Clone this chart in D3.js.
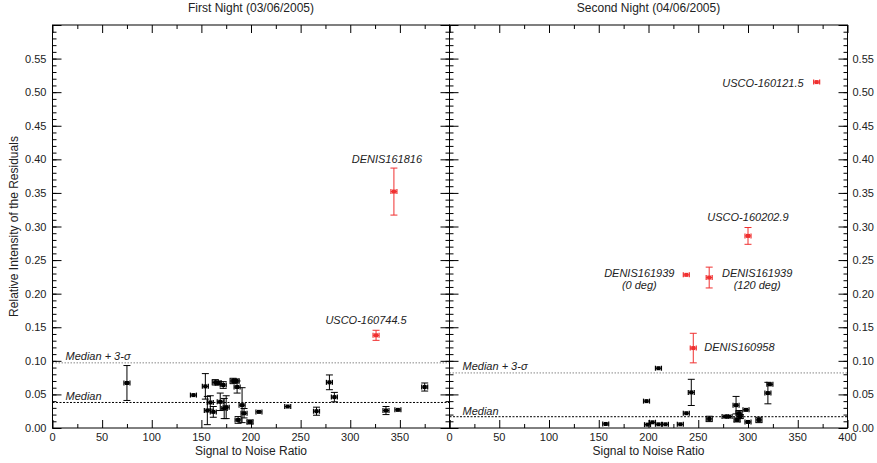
<!DOCTYPE html>
<html>
<head>
  <meta charset="UTF-8">
  <title>Relative Intensity of the Residuals vs SNR</title>
  <script src="https://d3js.org/d3.v7.min.js"></script>
  <style>
    body { margin: 0; background: #fff; }
    text { font-family: "Liberation Sans", Arial, Helvetica, sans-serif; fill: #222; }
  </style>
</head>
<body>
  <div id="chart"></div>

  <script>
    // ---- data ----
    // first night: black points (SNR, value, error)
    const night1Snr = [75, 142, 154, 156, 159, 162, 164, 167, 169, 172, 173, 175, 182, 185, 186, 187, 191, 193, 199, 208, 237, 266, 279, 284, 336, 348, 375];
    const night1Val = [0.067, 0.049, 0.062, 0.026, 0.038, 0.024, 0.068, 0.067, 0.039, 0.064, 0.029, 0.031, 0.070, 0.070, 0.061, 0.012, 0.034, 0.022, 0.009, 0.024, 0.032, 0.025, 0.068, 0.046, 0.026, 0.027, 0.061];
    const night1Err = [0.026, 0.002, 0.019, 0.021, 0.010, 0.008, 0.004, 0.003, 0.013, 0.005, 0.015, 0.017, 0.004, 0.003, 0.009, 0.005, 0.026, 0.007, 0.003, 0.002, 0.002, 0.006, 0.011, 0.007, 0.006, 0.002, 0.006];

    // second night: black points
    const night2Snr = [157, 198, 199, 204, 210, 210, 217, 232, 238, 243, 261, 277, 281, 288, 289, 291, 292, 298, 300, 311, 320, 322];
    const night2Val = [0.006, 0.040, 0.005, 0.0085, 0.089, 0.0055, 0.0055, 0.0055, 0.022, 0.053, 0.0135, 0.017, 0.017, 0.034, 0.012, 0.022, 0.017, 0.027, 0.009, 0.012, 0.052, 0.065];
    const night2Err = [0.002, 0.002, 0.002, 0.002, 0.002, 0.002, 0.002, 0.002, 0.002, 0.0195, 0.004, 0.002, 0.002, 0.013, 0.003, 0.004, 0.003, 0.002, 0.002, 0.004, 0.016, 0.002];

    // flagged (red) objects
    const night1Names = ["DENIS161816", "USCO-160744.5"];
    const night1RedSnr = [344, 326];
    const night1RedVal = [0.352, 0.138];
    const night1RedErr = [0.035, 0.0075];

    const night2Names = ["USCO-160121.5", "USCO-160202.9", "DENIS161939|(0 deg)", "DENIS161939|(120 deg)", "DENIS160958"];
    const night2RedSnr = [369, 300, 238, 261, 245];
    const night2RedVal = [0.515, 0.286, 0.228, 0.224, 0.119];
    const night2RedErr = [0.002, 0.0125, 0.002, 0.0155, 0.022];

    // median and median + 3 sigma levels
    const medians = [0.038, 0.0168];
    const sigmaLines = [0.097, 0.082];

    const titles = ["First Night (03/06/2005)", "Second Night (04/06/2005)"];
    const yTicks = [0, 0.05, 0.10, 0.15, 0.20, 0.25, 0.30, 0.35, 0.40, 0.45, 0.50, 0.55];

    // label placement (pixel offsets from the point)
    const night1LabelPos = [
      { anchor: "middle", dx: -7, dy: -29 },
      { anchor: "middle", dx: -10, dy: -11 }
    ];
    const night2LabelPos = [
      { anchor: "end", dx: -13, dy: 5 },
      { anchor: "middle", dx: 0, dy: -15 },
      { anchor: "middle", dx: -47, dy: 2 },
      { anchor: "middle", dx: 48, dy: -1 },
      { anchor: "start", dx: 11, dy: 3 }
    ];

    const width = 877, height = 463;
    const plotTop = 25, plotBottom = 428;

    const svg = d3.select("#chart")
      .append("svg")
      .attr("width", width)
      .attr("height", height);

    const y = d3.scaleLinear().domain([0, 0.6]).range([plotBottom, plotTop]);

    const panels = [
      { x0: 52.5, x1: 449.5, snr: night1Snr, val: night1Val, err: night1Err,
        names: night1Names, rSnr: night1RedSnr, rVal: night1RedVal, rErr: night1RedErr, pos: night1LabelPos,
        xLabels: d3.range(0, 351, 50), yLabelSide: "left" },
      { x0: 449.5, x1: 847.5, snr: night2Snr, val: night2Val, err: night2Err,
        names: night2Names, rSnr: night2RedSnr, rVal: night2RedVal, rErr: night2RedErr, pos: night2LabelPos,
        xLabels: d3.range(0, 401, 50), yLabelSide: "right" }
    ];

    function drawPoint(g, px, py, pyLo, pyHi, color) {
      // vertical error bar with caps
      g.append("line").attr("x1", px).attr("x2", px).attr("y1", pyLo).attr("y2", pyHi)
        .attr("stroke", color).attr("stroke-width", 1);
      if (pyHi - pyLo > 4) {
        g.append("line").attr("x1", px - 3.5).attr("x2", px + 3.5).attr("y1", pyLo).attr("y2", pyLo)
          .attr("stroke", color).attr("stroke-width", 1);
        g.append("line").attr("x1", px - 3.5).attr("x2", px + 3.5).attr("y1", pyHi).attr("y2", pyHi)
          .attr("stroke", color).attr("stroke-width", 1);
      }
      // small horizontal bar marker
      g.append("line").attr("x1", px - 3).attr("x2", px + 3).attr("y1", py).attr("y2", py)
        .attr("stroke", color).attr("stroke-width", 1.2);
      g.append("line").attr("x1", px - 3).attr("x2", px - 3).attr("y1", py - 2.5).attr("y2", py + 2.5)
        .attr("stroke", color).attr("stroke-width", 1.2);
      g.append("line").attr("x1", px + 3).attr("x2", px + 3).attr("y1", py - 2.5).attr("y2", py + 2.5)
        .attr("stroke", color).attr("stroke-width", 1.2);
      g.append("rect").attr("x", px - 2).attr("y", py - 2).attr("width", 4).attr("height", 4)
        .attr("fill", color);
    }

    panels.forEach(function(p, i) {
      const x = d3.scaleLinear().domain([0, 400]).range([p.x0, p.x1]);
      const g = svg.append("g");

      // ticks, inward on all four sides
      const majorX = d3.range(0, 401, 50), minorX = d3.range(25, 400, 50);
      const majorY = d3.range(0, 0.601, 0.05), minorY = d3.range(0, 0.6, 0.01);

      [[d3.axisBottom, plotBottom], [d3.axisTop, plotTop]].forEach(function(a) {
        g.append("g").attr("transform", "translate(0," + a[1] + ")")
          .call(a[0](x).tickValues(minorX).tickSize(-4).tickFormat(""))
          .call(s => s.select(".domain").remove());
        g.append("g").attr("transform", "translate(0," + a[1] + ")")
          .call(a[0](x).tickValues(majorX).tickSize(-8).tickFormat(""))
          .call(s => s.select(".domain").remove());
      });
      [[d3.axisLeft, p.x0], [d3.axisRight, p.x1]].forEach(function(a) {
        g.append("g").attr("transform", "translate(" + a[1] + ",0)")
          .call(a[0](y).tickValues(minorY).tickSize(-4).tickFormat(""))
          .call(s => s.select(".domain").remove());
        g.append("g").attr("transform", "translate(" + a[1] + ",0)")
          .call(a[0](y).tickValues(majorY).tickSize(-9).tickFormat(""))
          .call(s => s.select(".domain").remove());
      });
      g.selectAll(".tick line").attr("stroke", "#000");

      // tick labels
      g.selectAll(".xlab")
        .data(p.xLabels)
        .enter().append("text")
        .attr("x", d => x(d))
        .attr("y", plotBottom + 13)
        .attr("text-anchor", "middle")
        .style("font-size", "11px")
        .text(d => d);

      g.selectAll(".ylab")
        .data(yTicks)
        .enter().append("text")
        .attr("x", p.yLabelSide === "left" ? p.x0 - 6 : p.x1 + 5)
        .attr("y", d => y(d) + 4)
        .attr("text-anchor", p.yLabelSide === "left" ? "end" : "start")
        .style("font-size", "11px")
        .text(d => d3.format(".2f")(d));

      // median lines
      g.append("line")
        .attr("x1", p.x0).attr("x2", p.x1)
        .attr("y1", y(sigmaLines[i])).attr("y2", y(sigmaLines[i]))
        .attr("stroke", "#888").attr("stroke-width", 1).attr("stroke-dasharray", "1.5,1.5");
      g.append("line")
        .attr("x1", p.x0).attr("x2", p.x1)
        .attr("y1", y(medians[i])).attr("y2", y(medians[i]))
        .attr("stroke", "#000").attr("stroke-width", 1).attr("stroke-dasharray", "2,1.5");

      g.append("text")
        .attr("x", p.x0 + 13).attr("y", y(sigmaLines[i]) - 2.5)
        .style("font-size", "11px").style("font-style", "italic")
        .text("Median + 3-σ");
      g.append("text")
        .attr("x", p.x0 + 13).attr("y", y(medians[i]) - 2)
        .style("font-size", "11px").style("font-style", "italic")
        .text("Median");

      // black points
      p.snr.forEach(function(s, k) {
        drawPoint(g, x(s), y(p.val[k]), y(p.val[k] + p.err[k]), y(p.val[k] - p.err[k]), "#000");
      });

      // red points + labels
      p.rSnr.forEach(function(s, k) {
        const px = x(s), py = y(p.rVal[k]);
        drawPoint(g, px, py, y(p.rVal[k] + p.rErr[k]), y(p.rVal[k] - p.rErr[k]), "#f03030");
        const lines = p.names[k].split("|");
        const lp = p.pos[k];
        lines.forEach(function(t, j) {
          g.append("text")
            .attr("x", px + lp.dx)
            .attr("y", py + lp.dy + j * 12)
            .attr("text-anchor", lp.anchor)
            .style("font-size", "11px")
            .style("font-style", "italic")
            .text(t);
        });
      });

      // frame
      g.append("rect")
        .attr("x", p.x0).attr("y", plotTop)
        .attr("width", p.x1 - p.x0).attr("height", plotBottom - plotTop)
        .attr("fill", "none").attr("stroke", "#000").attr("stroke-width", 1);

      // titles
      svg.append("text")
        .attr("x", (p.x0 + p.x1) / 2).attr("y", 12)
        .attr("text-anchor", "middle")
        .style("font-size", "12px")
        .text(titles[i]);

      svg.append("text")
        .attr("x", (p.x0 + p.x1) / 2).attr("y", 455)
        .attr("text-anchor", "middle")
        .style("font-size", "12px")
        .text("Signal to Noise Ratio");
    });

    svg.append("text")
      .attr("transform", "rotate(-90)")
      .attr("x", -(plotTop + plotBottom) / 2)
      .attr("y", 18)
      .attr("text-anchor", "middle")
      .style("font-size", "12px")
      .text("Relative Intensity of the Residuals");
  </script>
</body>
</html>
